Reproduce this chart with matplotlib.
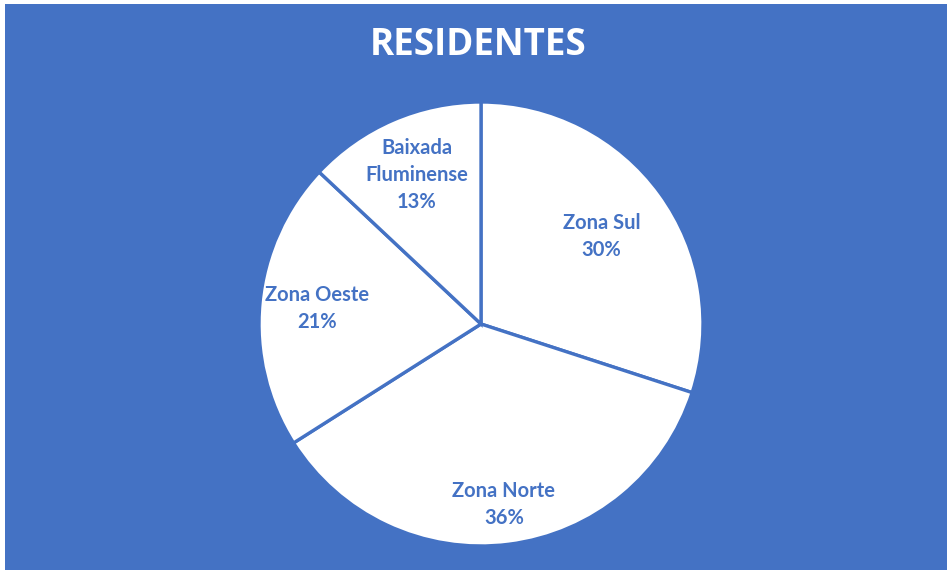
import matplotlib.pyplot as plt
import numpy as np

# dados
regioes = ['Zona Sul', 'Zona Norte', 'Zona Oeste', 'Baixada\nFluminense']
valores = [30, 36, 21, 13]

azul = '#4472C4'

fig = plt.figure(figsize=(9.47, 5.71), dpi=100)
fig.patch.set_facecolor('white')
# fundo azul (com pequena margem branca a esquerda/topo)
fig.add_artist(plt.Rectangle((5/947, 1/571), 1, 1 - 5/571, transform=fig.transFigure,
                             facecolor=azul, edgecolor='none', zorder=0))

ax = fig.add_axes([(481-222)/947, (571-324-222)/571, 444/947, 444/571])
ax.set_facecolor('none')
wedges, _ = ax.pie(valores, startangle=90, counterclock=False,
                   colors=['white']*4,
                   wedgeprops=dict(edgecolor=azul, linewidth=2.4))
ax.set_xlim(-1, 1)
ax.set_ylim(-1, 1)
ax.set_aspect('equal')

dist = [0.67, 0.82, 0.74, 0.73]
for w, nome, v, d in zip(wedges, regioes, valores, dist):
    ang = np.deg2rad((w.theta1 + w.theta2) / 2)
    ax.text(d*np.cos(ang), d*np.sin(ang), f'{nome}\n{v}%', ha='center', va='center',
            color=azul, fontsize=14.5, fontweight='bold', family='Lato', linespacing=1.45)

fig.text(478/947, 1 - 45/571, 'RESIDENTES', ha='center', va='center', color='white',
         fontsize=26.5, fontweight='bold', family='Open Sans')

plt.savefig('out.png', dpi=100, facecolor=fig.get_facecolor())
